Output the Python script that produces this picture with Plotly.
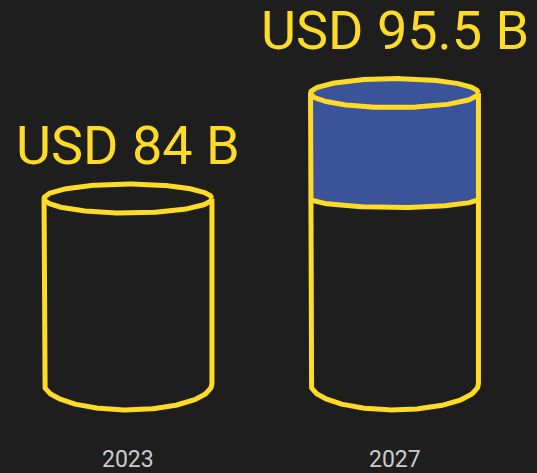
import numpy as np
import plotly.graph_objects as go

# ---- data ----
years = ["2023", "2027"]
values = [84, 95.5]
value_labels = ["USD 84 B", "USD 95.5 B"]

# ---- style / layout constants ----
BG = "#1e1e1e"
YELLOW = "#FEDB27"
BLUE = "#3A539B"
GREY = "#CCCCCC"
LW = 5
W, H = 537, 473
BASE = 63.8            # value at which cylinders are drawn to sit (axis floor)
HALF_W = 0.315         # half width of cylinder in x units
TOP_RY = 1.58          # ellipse half height (value units)
BOTTOM_RY = 2.85
BAND_RY = 0.98
X_RANGE = [-0.4803, 1.5347]
Y_RANGE = [54.07, 105.65]
LABEL_SHIFT = [39, 48]

fig = go.Figure()

def add_line(x, y, **kw):
    fig.add_trace(go.Scatter(x=x, y=y, mode="lines",
                             line=dict(color=YELLOW, width=LW),
                             hoverinfo="skip", showlegend=False, **kw))

for i, (yr, v) in enumerate(zip(years, values)):
    xc = i
    # growth band (blue) from previous value to current
    if i > 0:
        prev = values[i - 1]
        t_top = np.linspace(np.pi, 0, 120)
        t_bot = np.linspace(0, -np.pi, 120)
        bx = np.concatenate([xc + HALF_W * np.cos(t_top), xc + HALF_W * np.cos(t_bot)])
        by = np.concatenate([v + TOP_RY * np.sin(t_top), prev + BAND_RY * np.sin(t_bot)])
        fig.add_trace(go.Scatter(x=bx, y=by, mode="lines", fill="toself",
                                 fillcolor=BLUE, line=dict(width=0, color=BLUE),
                                 hoverinfo="skip", showlegend=False))
        t = np.linspace(0, -np.pi, 120)
        add_line(xc + HALF_W * np.cos(t), prev + BAND_RY * np.sin(t))
    # body outline: left side, bottom arc, right side
    t = np.linspace(np.pi, 2 * np.pi, 160)
    ox = np.concatenate([[xc - HALF_W], xc + HALF_W * np.cos(t), [xc + HALF_W]])
    oy = np.concatenate([[v], BASE + BOTTOM_RY * np.sin(t), [v]])
    add_line(ox, oy)
    # top ellipse
    t = np.linspace(0, 2 * np.pi, 240)
    add_line(xc + HALF_W * np.cos(t), v + TOP_RY * np.sin(t))

    fig.add_annotation(x=xc, y=v + TOP_RY, text=value_labels[i], showarrow=False,
                       xanchor="center", yanchor="middle", yshift=LABEL_SHIFT[i],
                       font=dict(family="Roboto", size=54, color=YELLOW))
    fig.add_annotation(x=xc, y=0, yref="paper", text=yr, showarrow=False,
                       xanchor="center", yanchor="middle", yshift=14,
                       font=dict(family="Roboto", size=23, color=GREY))

fig.update_layout(
    width=W, height=H, margin=dict(l=0, r=0, t=0, b=0),
    paper_bgcolor=BG, plot_bgcolor=BG,
    xaxis=dict(range=X_RANGE, visible=False, fixedrange=True),
    yaxis=dict(range=Y_RANGE, visible=False, fixedrange=True),
)

fig.write_html("out.html")
